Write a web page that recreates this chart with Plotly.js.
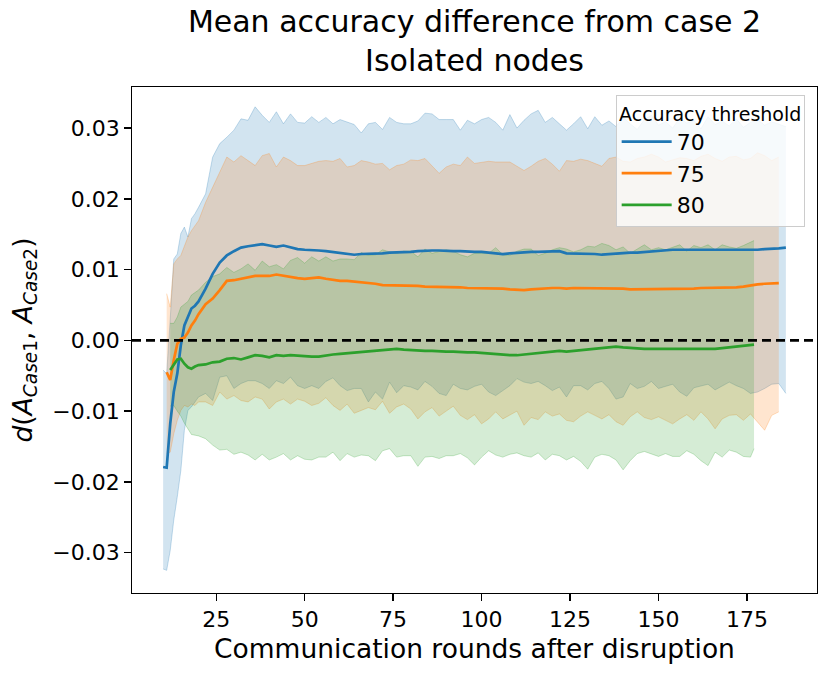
<!DOCTYPE html>
<html>
<head>
<meta charset="utf-8">
<script src="https://cdn.plot.ly/plotly-3.0.1.min.js"></script>
<style>html,body{margin:0;padding:0;background:#fff;}#chart{width:831px;height:677px;}</style>
</head>
<body>
<div id="chart"></div>
<script>
// Communication rounds (x) per accuracy threshold
const x70 = [10,11,12,13,14,15,16,17,18,19,20,22,24,26,28,30,32,34,36,38,40,42,44,46,48,50,52,54,56,58,60,62,64,66,68,70,72,74,76,78,80,82,84,86,88,90,92,94,96,98,100,102,104,106,108,110,112,114,116,118,120,122,124,126,128,130,132,134,136,138,140,142,144,146,148,150,152,154,156,158,160,162,164,166,168,170,172,174,176,178,180,182,184,186];
const x75 = [11,12,13,14,15,16,17,18,19,20,22,24,26,28,30,32,34,36,38,40,42,44,46,48,50,52,54,56,58,60,62,64,66,68,70,72,74,76,78,80,82,84,86,88,90,92,94,96,98,100,102,104,106,108,110,112,114,116,118,120,122,124,126,128,130,132,134,136,138,140,142,144,146,148,150,152,154,156,158,160,162,164,166,168,170,172,174,176,178,180,182,184];
const x80 = [12,13,14,15,16,17,18,19,20,22,24,26,28,30,32,34,36,38,40,42,44,46,48,50,52,54,56,58,60,62,64,66,68,70,72,74,76,78,80,82,84,86,88,90,92,94,96,98,100,102,104,106,108,110,112,114,116,118,120,122,124,126,128,130,132,134,136,138,140,142,144,146,148,150,152,154,156,158,160,162,164,166,168,170,172,174,176,177];

// Threshold 70: mean, upper and lower band
const mean70 = [-0.0179,-0.0180,-0.0118,-0.0073,-0.0047,-0.0007,0.0021,0.0033,0.0045,0.0049,0.0055,
  0.0073,0.0094,0.0110,0.0120,0.0126,0.0131,0.0133,0.0134,0.0136,0.0134,0.0132,0.0134,0.0131,0.0129,
  0.0128,0.0128,0.0127,0.0126,0.0125,0.0124,0.0122,0.0121,0.0122,0.0122,0.0123,0.0123,0.0124,0.0124,0.0124,0.0125,0.0126,0.0127,0.0127,0.0127,0.0126,0.0126,0.0126,0.0125,0.0125,0.0125,0.0124,0.0123,0.0122,0.0123,0.0124,0.0125,0.0125,0.0125,0.0125,0.0126,0.0126,
  0.0123,0.0123,0.0123,0.0122,0.0122,0.0121,0.0122,0.0122,0.0123,0.0124,0.0124,0.0125,0.0126,0.0127,0.0128,0.0128,0.0128,0.0128,0.0128,0.0128,0.0128,0.0128,0.0128,0.0127,0.0127,0.0127,0.0128,0.0128,0.0129,0.0129,0.0130,0.0131];
const upper70 = [-0.0042,-0.0047,0.0030,0.0115,0.0122,0.0151,0.0160,0.0146,0.0172,0.0179,0.0188,
  0.0207,0.0259,0.0278,0.0287,0.0297,0.0313,0.0311,0.0330,0.0318,0.0308,0.0323,0.0306,0.0320,0.0308,
  0.0307,0.0316,0.0308,0.0315,0.0306,0.0312,0.0308,0.0305,0.0293,0.0306,0.0308,0.0298,0.0315,0.0308,0.0306,0.0306,0.0310,0.0321,0.0320,0.0312,0.0312,0.0312,0.0297,0.0311,0.0306,0.0312,0.0315,0.0308,0.0297,0.0319,0.0300,0.0311,0.0320,0.0325,0.0308,0.0315,0.0306,
  0.0297,0.0306,0.0316,0.0299,0.0316,0.0304,0.0310,0.0302,0.0315,0.0306,0.0298,0.0312,0.0318,0.0304,0.0309,0.0300,0.0314,0.0307,0.0311,0.0299,0.0316,0.0305,0.0310,0.0303,0.0313,0.0301,0.0308,0.0312,0.0304,0.0309,0.0306,0.0302];
const lower70 = [-0.0323,-0.0325,-0.0297,-0.0254,-0.0221,-0.0184,-0.0127,-0.0099,-0.0094,-0.0087,-0.0080,
  -0.0075,-0.0085,-0.0052,-0.0050,-0.0068,-0.0061,-0.0057,-0.0057,-0.0061,-0.0068,-0.0057,-0.0061,-0.0052,-0.0064,
  -0.0068,-0.0064,-0.0068,-0.0058,-0.0053,-0.0064,-0.0071,-0.0068,-0.0068,-0.0087,-0.0073,-0.0083,-0.0059,-0.0074,-0.0064,-0.0066,-0.0070,-0.0058,-0.0065,-0.0075,-0.0078,-0.0062,-0.0068,-0.0070,-0.0065,-0.0062,-0.0073,-0.0078,-0.0071,-0.0064,-0.0054,-0.0059,-0.0061,-0.0058,-0.0064,-0.0071,-0.0066,
  -0.0080,-0.0064,-0.0064,-0.0070,-0.0061,-0.0058,-0.0068,-0.0083,-0.0080,-0.0061,-0.0068,-0.0065,-0.0058,-0.0068,-0.0065,-0.0062,-0.0073,-0.0079,-0.0067,-0.0064,-0.0062,-0.0070,-0.0064,-0.0059,-0.0064,-0.0068,-0.0075,-0.0073,-0.0068,-0.0062,-0.0061,-0.0075];

// Threshold 75
const mean75 = [-0.0045,-0.0056,-0.0028,-0.0005,0.0002,0.0004,0.0011,0.0021,0.0028,0.0037,
  0.0051,0.0059,0.0071,0.0084,0.0085,0.0087,0.0088,0.0091,0.0091,0.0091,0.0093,0.0091,0.0090,0.0088,
  0.0087,0.0088,0.0089,0.0087,0.0085,0.0084,0.0084,0.0083,0.0083,0.0082,0.0080,0.0078,0.0078,0.0078,0.0077,0.0077,0.0077,0.0076,0.0076,0.0076,0.0075,0.0075,0.0075,0.0074,0.0074,0.0074,0.0073,0.0073,0.0073,0.0072,0.0071,0.0071,0.0072,0.0073,0.0074,0.0074,0.0074,
  0.0073,0.0074,0.0074,0.0074,0.0074,0.0074,0.0074,0.0073,0.0073,0.0072,0.0072,0.0072,0.0072,0.0072,0.0072,0.0073,0.0073,0.0073,0.0073,0.0074,0.0074,0.0074,0.0074,0.0075,0.0075,0.0076,0.0078,0.0079,0.0080,0.0081,0.0081];
const upper75 = [0.0066,0.0047,0.0108,0.0115,0.0120,0.0134,0.0146,0.0155,0.0162,0.0169,
  0.0195,0.0216,0.0238,0.0259,0.0252,0.0261,0.0254,0.0247,0.0261,0.0264,0.0245,0.0259,0.0254,0.0247,
  0.0247,0.0250,0.0253,0.0254,0.0253,0.0257,0.0245,0.0247,0.0254,0.0252,0.0249,0.0250,0.0241,0.0247,0.0249,0.0255,0.0254,0.0257,0.0246,0.0236,0.0245,0.0249,0.0247,0.0259,0.0250,0.0251,0.0253,0.0252,0.0252,0.0252,0.0246,0.0240,0.0246,0.0253,0.0257,0.0249,0.0239,
  0.0254,0.0253,0.0256,0.0254,0.0250,0.0246,0.0257,0.0259,0.0253,0.0252,0.0257,0.0259,0.0263,0.0259,0.0252,0.0255,0.0258,0.0257,0.0254,0.0260,0.0263,0.0257,0.0253,0.0259,0.0260,0.0255,0.0257,0.0265,0.0261,0.0254,0.0259];
const lower75 = [-0.0160,-0.0158,-0.0132,-0.0113,-0.0099,-0.0092,-0.0094,-0.0090,-0.0092,-0.0087,
  -0.0087,-0.0092,-0.0073,-0.0083,-0.0078,-0.0085,-0.0087,-0.0080,-0.0083,-0.0097,-0.0087,-0.0083,-0.0090,-0.0083,
  -0.0086,-0.0092,-0.0089,-0.0081,-0.0092,-0.0099,-0.0090,-0.0103,-0.0099,-0.0095,-0.0098,-0.0086,-0.0103,-0.0094,-0.0090,-0.0097,-0.0111,-0.0101,-0.0095,-0.0107,-0.0100,-0.0093,-0.0106,-0.0112,-0.0105,-0.0118,-0.0111,-0.0101,-0.0111,-0.0106,-0.0100,-0.0120,-0.0109,-0.0112,-0.0101,-0.0107,-0.0104,
  -0.0113,-0.0115,-0.0107,-0.0101,-0.0106,-0.0111,-0.0105,-0.0115,-0.0120,-0.0108,-0.0101,-0.0109,-0.0112,-0.0108,-0.0113,-0.0118,-0.0111,-0.0105,-0.0113,-0.0101,-0.0111,-0.0125,-0.0111,-0.0106,-0.0105,-0.0113,-0.0104,-0.0115,-0.0127,-0.0106,-0.0101];

// Threshold 80
const mean80 = [-0.0042,-0.0035,-0.0027,-0.0026,-0.0033,-0.0038,-0.0040,-0.0037,-0.0035,
  -0.0034,-0.0031,-0.0030,-0.0026,-0.0025,-0.0027,-0.0024,-0.0021,-0.0022,-0.0024,-0.0021,-0.0022,-0.0021,-0.0022,
  -0.0022,-0.0023,-0.0023,-0.0021,-0.0020,-0.0019,-0.0018,-0.0017,-0.0016,-0.0016,-0.0014,-0.0013,-0.0012,-0.0012,-0.0013,-0.0014,-0.0014,-0.0015,-0.0015,-0.0016,-0.0016,-0.0016,-0.0017,-0.0017,-0.0017,-0.0018,-0.0019,-0.0020,-0.0021,-0.0021,-0.0021,-0.0020,-0.0019,-0.0018,-0.0017,-0.0016,-0.0015,
  -0.0016,-0.0015,-0.0014,-0.0012,-0.0011,-0.0010,-0.0009,-0.0009,-0.0010,-0.0011,-0.0012,-0.0012,-0.0012,-0.0012,-0.0012,-0.0012,-0.0013,-0.0013,-0.0013,-0.0013,-0.0013,-0.0012,-0.0011,-0.0010,-0.0009,-0.0008,-0.0007,-0.0006];
const upper80 = [0.0024,0.0024,0.0033,0.0047,0.0051,0.0055,0.0064,0.0068,0.0071,
  0.0082,0.0090,0.0094,0.0103,0.0096,0.0101,0.0108,0.0099,0.0112,0.0104,0.0107,0.0101,0.0113,0.0117,
  0.0109,0.0118,0.0112,0.0118,0.0112,0.0115,0.0115,0.0114,0.0124,0.0120,0.0121,0.0128,0.0125,0.0123,0.0126,0.0126,0.0118,0.0129,0.0123,0.0125,0.0128,0.0126,0.0121,0.0118,0.0123,0.0123,0.0123,0.0131,0.0121,0.0120,0.0126,0.0129,0.0129,0.0120,0.0123,0.0128,0.0131,
  0.0129,0.0125,0.0128,0.0133,0.0132,0.0137,0.0134,0.0128,0.0132,0.0123,0.0129,0.0135,0.0128,0.0131,0.0128,0.0132,0.0135,0.0126,0.0134,0.0131,0.0135,0.0128,0.0135,0.0132,0.0130,0.0134,0.0139,0.0141];
const lower80 = [-0.0093,-0.0092,-0.0100,-0.0107,-0.0117,-0.0126,-0.0133,-0.0134,-0.0135,
  -0.0139,-0.0148,-0.0155,-0.0154,-0.0161,-0.0158,-0.0162,-0.0169,-0.0161,-0.0169,-0.0165,-0.0160,-0.0169,-0.0163,
  -0.0168,-0.0169,-0.0165,-0.0165,-0.0158,-0.0170,-0.0160,-0.0165,-0.0162,-0.0163,-0.0170,-0.0156,-0.0153,-0.0165,-0.0163,-0.0163,-0.0178,-0.0165,-0.0164,-0.0167,-0.0163,-0.0163,-0.0160,-0.0166,-0.0176,-0.0165,-0.0156,-0.0162,-0.0165,-0.0161,-0.0159,-0.0163,-0.0165,-0.0159,-0.0169,-0.0161,-0.0163,
  -0.0169,-0.0164,-0.0171,-0.0182,-0.0165,-0.0161,-0.0163,-0.0169,-0.0183,-0.0170,-0.0160,-0.0157,-0.0161,-0.0164,-0.0160,-0.0164,-0.0164,-0.0156,-0.0161,-0.0170,-0.0177,-0.0158,-0.0165,-0.0155,-0.0158,-0.0164,-0.0165,-0.0153];

const seriesNames = ['70', '75', '80'];
const xTicks = [25, 50, 75, 100, 125, 150, 175];
const yTicks = [-0.03, -0.02, -0.01, 0.00, 0.01, 0.02, 0.03];

const colors = [[31,119,180],[255,127,14],[44,160,44]];
const rgba = (c, a) => `rgba(${c[0]},${c[1]},${c[2]},${a})`;
const xs = [x70, x75, x80];
const means = [mean70, mean75, mean80];
const ups = [upper70, upper75, upper80];
const lows = [lower70, lower75, lower80];

const FONT = 'DejaVu Sans, Liberation Sans, sans-serif';
const traces = [];
for (let i = 0; i < 3; i++) {
  traces.push({x: xs[i], y: ups[i], type: 'scatter', mode: 'lines',
    line: {color: rgba(colors[i], 0.25), width: 1}, showlegend: false, hoverinfo: 'skip'});
  traces.push({x: xs[i], y: lows[i], type: 'scatter', mode: 'lines', fill: 'tonexty',
    fillcolor: rgba(colors[i], 0.2),
    line: {color: rgba(colors[i], 0.25), width: 1}, showlegend: false, hoverinfo: 'skip'});
}
for (let i = 0; i < 3; i++) {
  traces.push({x: xs[i], y: means[i], type: 'scatter', mode: 'lines', name: seriesNames[i],
    line: {color: rgba(colors[i], 1), width: 2.7}});
}

const axisCommon = {
  showgrid: false, zeroline: false, showline: true, mirror: true,
  linecolor: '#000', linewidth: 1.4, ticks: 'outside', ticklen: 6.5, tickwidth: 1.4,
  tickcolor: '#000', tickfont: {family: FONT, size: 22, color: '#000'}
};

const layout = {
  width: 831, height: 677,
  paper_bgcolor: '#fff', plot_bgcolor: '#fff',
  margin: {l: 132, r: 14, t: 87, b: 84},
  font: {family: FONT, color: '#000'},
  title: {text: 'Mean accuracy difference from case 2<br>Isolated nodes',
    font: {family: FONT, size: 30, color: '#000'}, x: 0.5, xref: 'paper',
    y: 0.953, yref: 'container', yanchor: 'top'},
  xaxis: Object.assign({}, axisCommon, {
    range: [1.2, 194.8], tickvals: xTicks, ticktext: xTicks.map(String),
    title: {text: 'Communication rounds after disruption', font: {family: FONT, size: 26.5, color: '#000'}, standoff: 8}
  }),
  yaxis: Object.assign({}, axisCommon, {
    range: [-0.0357, 0.0358], tickvals: yTicks,
    ticktext: yTicks.map(v => (v < 0 ? '\u2212' : '') + Math.abs(v).toFixed(2)),
    title: {text: '<i>d</i>(<i>A</i><sub><i>Case</i>1</sub>, <i>A</i><sub><i>Case</i>2</sub>)',
      font: {family: FONT, size: 26.5, color: '#000'}, standoff: 12}
  }),
  shapes: [{type: 'line', xref: 'paper', yref: 'y', x0: 0, x1: 1, y0: 0, y1: 0,
    line: {color: '#000', width: 2.7, dash: '9px,5px'}, layer: 'above'}],
  legend: {x: 0.982, xanchor: 'right', y: 0.984, yanchor: 'top', traceorder: 'normal',
    bgcolor: 'rgba(255,255,255,0.8)', bordercolor: '#cccccc', borderwidth: 1,
    font: {family: FONT, size: 22, color: '#000'}, itemwidth: 50,
    title: {text: 'Accuracy threshold', font: {family: FONT, size: 19, color: '#000'}, side: 'top center'},
    tracegroupgap: 0}
};

Plotly.newPlot('chart', traces, layout, {displayModeBar: false, staticPlot: true});
</script>
</body>
</html>
